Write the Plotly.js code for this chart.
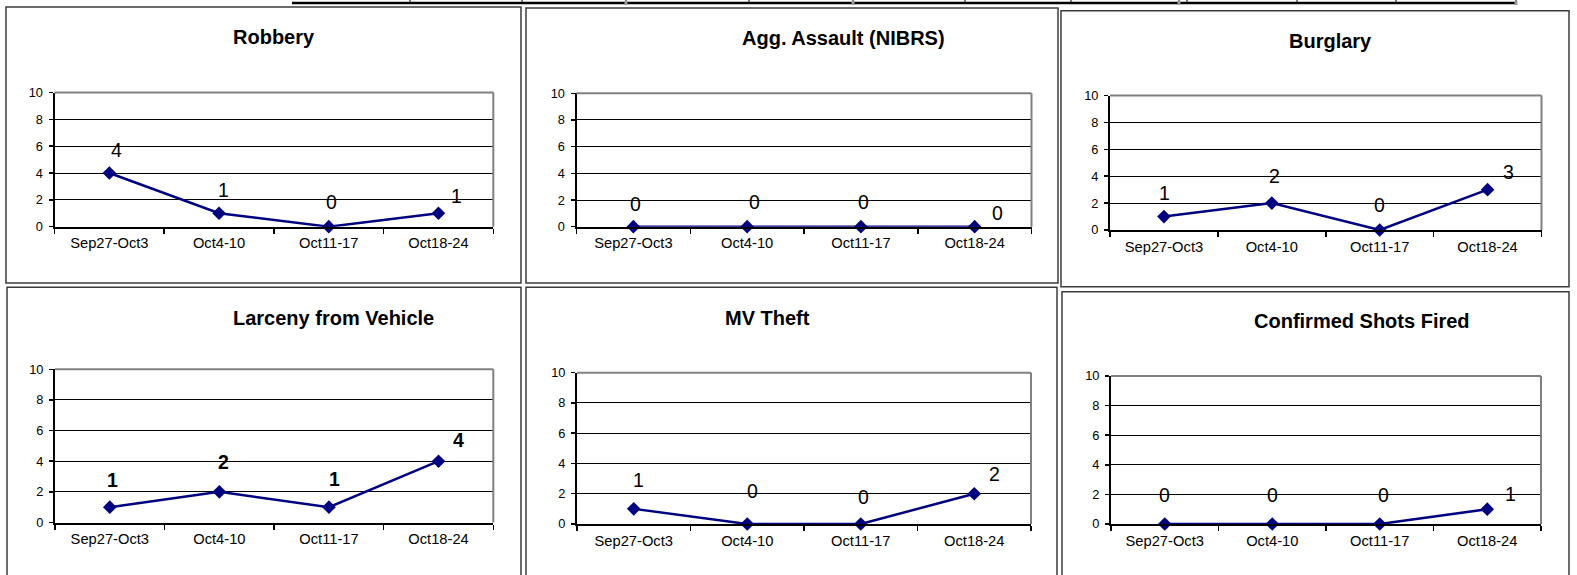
<!DOCTYPE html>
<html>
<head>
<meta charset="utf-8">
<script src="https://cdn.plot.ly/plotly-3.0.1.min.js"></script>
<style>
  html, body { margin: 0; padding: 0; background: #ffffff; }
  #chart { width: 1577px; height: 575px; }
</style>
</head>
<body>
<div id="chart"></div>
<script>
// ---------------- data ----------------
const categories = ['Sep27-Oct3', 'Oct4-10', 'Oct11-17', 'Oct18-24'];
const yTickValues = [0, 2, 4, 6, 8, 10];

const robbery            = [4, 1, 0, 1];
const aggAssault         = [0, 0, 0, 0];
const burglary           = [1, 2, 0, 3];
const larcenyFromVehicle = [1, 2, 1, 4];
const mvTheft            = [1, 0, 0, 2];
const shotsFired         = [0, 0, 0, 1];

const chartTitles = ['Robbery', 'Agg. Assault (NIBRS)', 'Burglary',
                     'Larceny from Vehicle', 'MV Theft', 'Confirmed Shots Fired'];
const chartSeries = [robbery, aggAssault, burglary, larcenyFromVehicle, mvTheft, shotsFired];

// ---------------- layout / styles (pixels) ----------------
const W = 1577, H = 575;
const FONT = 'Liberation Sans, Arial, Helvetica, sans-serif';
const NAVY = '#000080';

// plot areas: [left, right, top, bottom]
const plotBoxes = [
  [54.5, 493.3, 92.5, 226.7],
  [576.5, 1031.5, 93.3, 226.7],
  [1110, 1541.5, 95.5, 230],
  [55, 493.3, 369.3, 522.5],
  [577, 1031, 372.7, 524],
  [1111, 1541, 376, 524]
];
// outer frames: [left, right, top, bottom]
const frames = [
  [6, 521, 7, 283],
  [526, 1058, 8, 283],
  [1061, 1569, 10.7, 286.7],
  [7, 521, 287.3, 590],
  [526, 1057, 287.3, 590],
  [1062, 1569, 291.7, 590]
];
// title centres [x, y]
const titlePos = [[274, 37], [843, 38], [1330, 41], [333, 318], [767.5, 318], [1362, 321]];
// data-label offsets [dx, dy] in px (dy down)
const labelOffsets = [
  [[6.7, -22.7], [4, -23.3], [2.3, -24.3], [18, -17.7]],
  [[2.4, -22.7], [7.2, -25], [2.7, -25], [22.9, -13.3]],
  [[1, -23.3], [2.7, -26.7], [0, -25.3], [21.2, -17.7]],
  [[2.3, -27.3], [4, -29.7], [6, -28.3], [20, -21.7]],
  [[4.4, -28.7], [5.5, -33.3], [2.4, -27.3], [20.5, -19.3]],
  [[0, -29], [0, -29], [3.4, -29], [22.9, -15.3]]
];
const boldLabels = [false, false, false, true, false, false];

const px = x => x / W;
const py = y => 1 - y / H;

const data = [];
const layout = {
  width: W, height: H,
  margin: {l: 0, r: 0, t: 0, b: 0, pad: 0},
  paper_bgcolor: '#ffffff',
  plot_bgcolor: '#ffffff',
  showlegend: false,
  font: {family: FONT, color: '#000000'},
  annotations: [],
  shapes: []
};

chartSeries.forEach((vals, i) => {
  const n = i + 1;
  const xa = 'x' + (n === 1 ? '' : n);
  const ya = 'y' + (n === 1 ? '' : n);
  const xk = 'xaxis' + (n === 1 ? '' : n);
  const yk = 'yaxis' + (n === 1 ? '' : n);
  const b = plotBoxes[i];

  data.push({
    type: 'scatter', mode: 'lines+markers',
    x: categories, y: vals,
    xaxis: xa, yaxis: ya,
    line: {color: NAVY, width: 2.5},
    marker: {symbol: 'diamond', size: 10.5, color: NAVY},
    cliponaxis: false,
    hoverinfo: 'skip'
  });

  layout[xk] = {
    domain: [px(b[0]), px(b[1])],
    anchor: ya,
    type: 'category',
    range: [-0.5, 3.5],
    tickson: 'boundaries',
    ticks: 'outside', ticklen: 5, tickwidth: 1.5, tickcolor: '#000000',
    showgrid: false, zeroline: false,
    showline: true, linecolor: '#000000', linewidth: 2,
    tickfont: {family: FONT, size: 14.7, color: '#000000'},
    ticklabelstandoff: 2,
    fixedrange: true
  };
  layout[yk] = {
    domain: [py(b[3]), py(b[2])],
    anchor: xa,
    range: [0, 10],
    tickmode: 'array', tickvals: yTickValues, ticktext: yTickValues.map(String),
    ticks: 'outside', ticklen: 4, tickwidth: 1.5, tickcolor: '#000000',
    showgrid: true, gridcolor: '#000000', gridwidth: 1,
    zeroline: false,
    showline: true, linecolor: '#000000', linewidth: 2,
    tickfont: {family: FONT, size: 12.8, color: '#000000'},
    ticklabelstandoff: 3,
    fixedrange: true
  };

  // grey top and right border of plot area
  layout.shapes.push({type: 'line', xref: xa + ' domain', yref: ya + ' domain',
    x0: 0, x1: 1, y0: 1, y1: 1, line: {color: '#808080', width: 2}, layer: 'above'});
  layout.shapes.push({type: 'line', xref: xa + ' domain', yref: ya + ' domain',
    x0: 1, x1: 1, y0: 0, y1: 1, line: {color: '#808080', width: 2}, layer: 'above'});

  // outer frame
  const f = frames[i];
  layout.shapes.push({type: 'rect', xref: 'paper', yref: 'paper',
    x0: px(f[0]), x1: px(f[1]), y0: py(f[3]), y1: py(f[2]),
    line: {color: '#3c3c3c', width: 1.5}, fillcolor: 'rgba(0,0,0,0)', layer: 'below'});

  // title
  layout.annotations.push({
    xref: 'paper', yref: 'paper',
    x: px(titlePos[i][0]), y: py(titlePos[i][1]),
    xanchor: 'center', yanchor: 'middle', showarrow: false,
    text: '<b>' + chartTitles[i] + '</b>',
    font: {family: FONT, size: 20, color: '#000000'}
  });

  // data labels
  vals.forEach((v, j) => {
    const txt = boldLabels[i] ? '<b>' + v + '</b>' : String(v);
    layout.annotations.push({
      xref: xa, yref: ya, x: categories[j], y: v,
      xanchor: 'center', yanchor: 'middle', showarrow: false,
      xshift: labelOffsets[i][j][0], yshift: -labelOffsets[i][j][1],
      text: txt,
      font: {family: FONT, size: 19.5, color: '#000000'}
    });
  });
});

// bottom edge of a table above the charts
const stripTicks = [410, 522, 626, 749, 853, 965, 1071, 1179, 1187, 1297, 1396, 1516];
layout.shapes.push({type: 'line', xref: 'paper', yref: 'paper',
  x0: px(292), x1: px(1516), y0: py(3), y1: py(3), line: {color: '#000000', width: 2.5}});
stripTicks.forEach(x => {
  layout.shapes.push({type: 'line', xref: 'paper', yref: 'paper',
    x0: px(x), x1: px(x), y0: py(0), y1: py(3), line: {color: '#000000', width: 1}});
});
[626, 853, 1179, 1516].forEach(x => {
  layout.shapes.push({type: 'rect', xref: 'paper', yref: 'paper',
    x0: px(x - 1.5), x1: px(x + 1.5), y0: py(5), y1: py(1),
    line: {width: 0}, fillcolor: '#9a9a9a'});
});

Plotly.newPlot('chart', data, layout, {displayModeBar: false, staticPlot: true});
</script>
</body>
</html>
